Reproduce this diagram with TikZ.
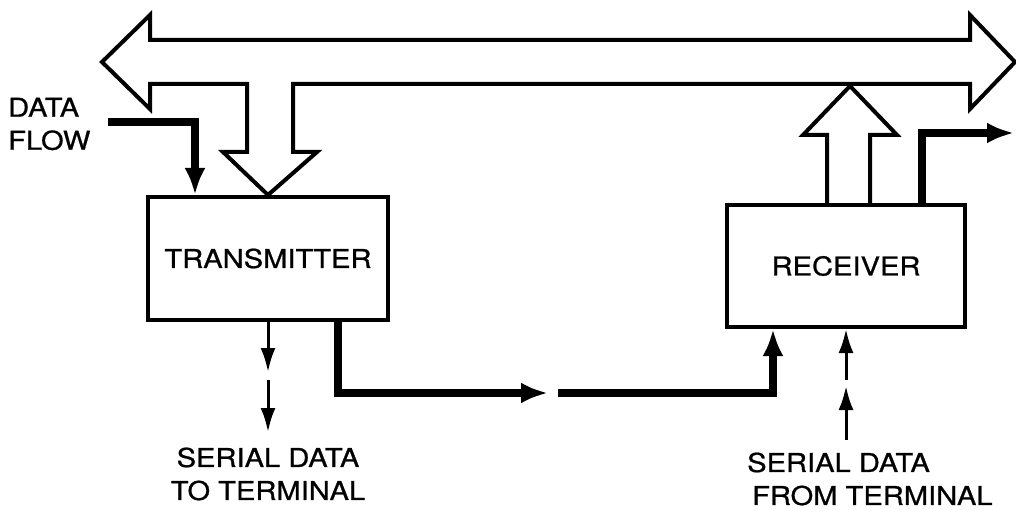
\documentclass[tikz,border=0pt]{standalone}
\usepackage{fontspec}
\setmainfont{TeX Gyre Heros}[FakeStretch=1.12,FakeBold=0.8]
\usetikzlibrary{arrows.meta}

\begin{document}
\begin{tikzpicture}[x=1pt,y=-1pt]
\tikzset{blk/.style={draw,line width=4pt,inner sep=0pt,font=\fontsize{26}{34}\selectfont},
  lbl/.style={inner sep=0pt,font=\fontsize{26}{33}\selectfont},
  busline/.style={line width=4pt,line join=miter},
  thickflow/.style={line width=7.5pt,-{Latex[length=27pt,width=21pt]}},
  serial/.style={line width=3pt,-{Latex[length=24pt,width=15pt]}}}
\useasboundingbox (0,0) rectangle (1016,510);

% the two units
\node[blk,minimum width=240pt,minimum height=123pt] (tx) at (268,258.5) {TRANSMITTER};
\node[blk,minimum width=238pt,minimum height=122pt] (rx) at (846,266) {RECEIVER};

% the bus, with the branch down into the transmitter
\draw[busline] (102,62) -- (150,15) -- (150,40) -- (970,40) -- (970,15) -- (1015,62)
  -- (970,109) -- (970,84) -- (293,84) -- (293,152) -- (317,152) -- (tx.north)
  -- (223,152) -- (247,152) -- (247,84) -- (150,84) -- (150,109) -- cycle;
% branch up from the receiver
\draw[busline] (827,205) -- (827,135) -- (803,135) -- (850,86) -- (897,135)
  -- (870,135) -- (870,205);

% labels
\node[lbl,anchor=west,align=left] (dflow) at (8,124) {DATA\\FLOW};
\node[lbl,align=center] (txlbl) at (268,474) {SERIAL DATA\\TO TERMINAL};
\node[lbl,anchor=west,align=left] (rxlbl) at (747,479) {SERIAL DATA\\\hspace{5pt}FROM TERMINAL};

% data flow into the transmitter, out of the receiver
\coordinate (dfin) at (108,122);
\draw[thickflow] (dfin) -| ([xshift=49pt]tx.north west);
\coordinate (rxout) at (1014,133);
\draw[thickflow] ([xshift=76pt]rx.north) |- (rxout);

% serial link between the two units
\coordinate (lnka) at (548,393);
\coordinate (lnkb) at (558,393);
\draw[thickflow] ([xshift=70pt]tx.south) |- (lnka);
\draw[thickflow] (lnkb) -| ([xshift=-73pt]rx.south);

% serial data to and from the terminal
\coordinate (txs1) at (268,372);
\coordinate (txs2) at (268,380);
\coordinate (txs3) at (268,432);
\draw[serial] (tx.south) -- (txs1);
\draw[serial] (txs2) -- (txs3);
\coordinate (rxs1) at (846,440);
\coordinate (rxs2) at (846,386);
\coordinate (rxs3) at (846,380);
\draw[serial] (rxs1) -- (rxs2);
\draw[serial] (rxs3) -- (rx.south);
\end{tikzpicture}
\end{document}
